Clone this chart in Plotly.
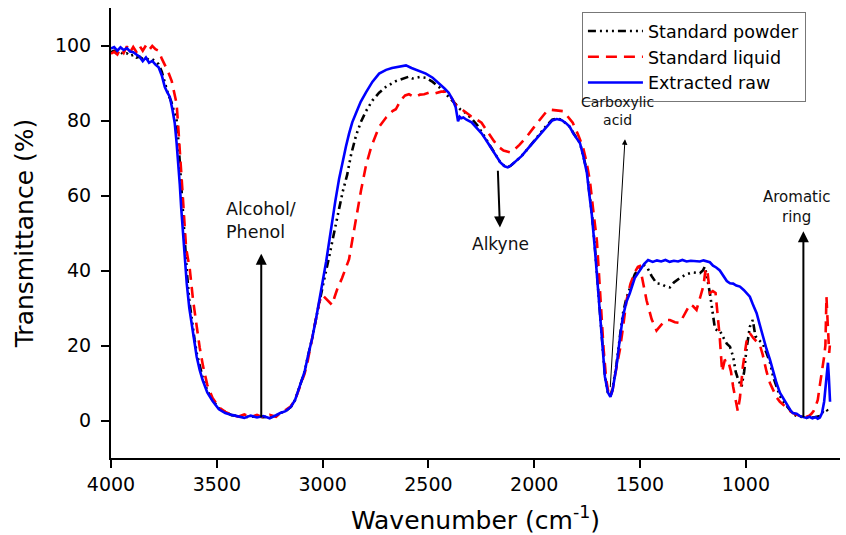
import plotly.graph_objects as go

# ---------------- data ----------------
wn_powder = [4000,3985,3970,3955,3940,3925,3910,3895,3880,3865,3850,3835,3820,3805,3790,3775,3760,3746,3730,3715,3705,3690,3682,3675,3668,3661,3652,3642,3630,3619,3605,3595,3581,3567,3545,3520,3490,3460,3430,3400,3370,3340,3310,3280,3250,3220,3200,3175,3150,3130,3115,3100,3085,3070,3049,3030,3016,2993,2969,2950,2935,2922,2905,2884,2865,2842,2820,2795,2765,2733,2700,2654,2620,2592,2575,2560,2540,2512,2480,2451,2420,2390,2370,2350,2324,2296,2270,2249,2216,2183,2160,2140,2125,2110,2090,2060,2030,2000,1970,1940,1915,1893,1870,1850,1832,1815,1784,1768,1751,1740,1728,1713,1704,1690,1678,1666,1652,1640,1630,1620,1611,1596,1581,1565,1548,1525,1501,1480,1463,1445,1422,1400,1380,1359,1340,1312,1280,1250,1217,1203,1194,1186,1170,1156,1146,1135,1123,1109,1090,1075,1060,1048,1036,1020,1008,997,981,967,955,940,920,902,886,870,855,839,820,808,790,778,760,740,725,713,700,680,665,650,640,630,620,612,603]
t_powder = [98.2,98.6,97.9,98.3,97.6,97.9,97.2,97.5,96.8,97.0,96.4,96.7,96.1,96.3,95.8,95.0,93.0,90.0,87.0,85.0,83.0,80.0,75.0,69.0,62.0,55.0,47.0,40.0,32.0,27.0,21.5,18.0,14.5,11.5,8.0,5.5,3.2,2.2,1.4,1.2,0.9,1.0,1.1,0.9,1.0,1.2,2.0,2.5,3.6,5.5,8.0,10.5,13.0,17.0,22.0,27.5,31.5,37.5,43.7,49.5,53.0,56.5,61.0,65.5,71.0,76.0,79.5,82.5,85.3,87.4,89.0,90.5,91.2,91.7,91.2,91.3,91.6,91.4,90.3,89.0,87.3,85.5,84.3,83.0,82.0,80.5,78.8,77.0,74.0,70.8,68.8,67.8,67.5,68.0,69.0,70.5,72.5,74.7,76.7,78.8,80.2,80.5,80.2,79.2,78.3,76.7,74.0,70.5,66.5,61.0,55.5,46.0,39.5,28.0,18.5,12.0,7.5,6.5,8.5,12.0,15.0,22.0,28.5,32.5,35.5,39.0,41.0,41.4,40.5,38.5,36.6,36.4,35.8,35.5,36.8,38.0,39.0,39.5,39.3,40.0,41.0,39.0,34.0,28.0,24.5,24.0,24.0,22.4,20.5,19.7,17.0,13.0,10.9,9.0,13.0,19.0,25.0,26.8,22.5,21.5,20.5,18.0,15.5,11.5,9.0,6.5,4.8,4.0,2.5,1.8,1.2,1.0,0.8,0.7,0.9,0.8,1.0,1.2,2.0,2.8,3.0,2.5,2.8]

wn_liquid = [4000,3985,3970,3955,3940,3925,3910,3895,3880,3865,3850,3835,3820,3805,3790,3775,3760,3745,3730,3713,3700,3690,3683,3675,3668,3661,3652,3645,3636,3628,3612,3595,3581,3565,3545,3520,3490,3460,3430,3400,3370,3340,3310,3280,3250,3220,3200,3175,3150,3130,3115,3100,3085,3070,3049,3030,3016,3002,2985,2969,2955,2943,2931,2908,2890,2875,2860,2842,2818,2795,2770,2733,2700,2670,2654,2630,2610,2592,2575,2560,2540,2520,2498,2470,2440,2418,2400,2385,2370,2343,2320,2300,2270,2249,2230,2210,2190,2169,2145,2115,2095,2070,2035,2000,1970,1945,1926,1900,1880,1865,1845,1818,1795,1770,1755,1737,1722,1704,1695,1685,1672,1660,1648,1640,1630,1620,1607,1595,1580,1564,1545,1525,1510,1501,1490,1478,1469,1445,1422,1400,1375,1359,1335,1312,1290,1264,1250,1233,1215,1200,1190,1182,1170,1156,1143,1133,1123,1112,1100,1085,1070,1060,1048,1038,1028,1014,997,981,965,949,934,920,902,886,870,855,839,820,808,790,778,760,740,725,713,700,690,680,670,660,650,640,630,624,619,614,610,606,603]
t_liquid = [97.8,98.3,97.6,99.2,98.0,99.8,98.2,99.6,98.3,99.9,98.6,100.0,98.8,99.9,99.0,98.6,96.5,94.8,93.0,90.5,87.5,84.5,79.0,73.0,67.0,60.0,52.0,46.0,43.0,40.5,32.0,25.0,19.5,14.5,9.5,6.0,3.5,2.3,1.5,1.0,1.6,0.9,1.5,0.8,1.5,1.0,2.0,2.8,3.8,5.5,8.0,10.0,12.5,16.0,22.0,28.0,31.5,33.5,32.5,31.5,30.8,33.0,35.0,38.0,40.5,43.0,48.0,54.0,61.5,68.0,73.0,78.3,80.8,82.5,83.0,85.5,86.7,87.0,86.5,86.3,86.9,87.0,87.4,87.2,87.7,87.7,86.8,85.5,84.0,83.0,82.0,81.2,80.2,79.4,77.8,76.0,74.5,73.0,72.0,71.5,72.2,73.5,75.7,78.3,80.5,82.2,82.9,82.7,82.6,82.5,81.3,79.4,76.5,73.0,69.5,64.0,56.5,48.0,40.0,30.0,19.0,11.0,7.0,6.5,8.0,11.5,15.5,18.9,25.0,32.0,36.5,39.5,41.0,41.2,38.0,35.0,32.0,27.0,24.0,25.5,26.8,26.8,26.2,26.0,28.5,31.0,30.5,29.5,33.0,36.0,40.5,40.0,34.0,34.5,34.0,28.0,22.0,13.0,16.0,16.3,13.0,9.0,5.0,2.5,6.0,14.4,21.0,23.3,22.0,21.0,20.2,17.5,13.0,10.0,7.8,6.2,5.0,4.0,3.2,2.5,2.0,1.5,1.2,0.8,1.0,1.3,1.8,2.5,3.8,5.5,9.5,13.0,17.0,20.0,33.0,27.0,22.0,18.0,20.0]

wn_raw = [4000,3985,3970,3955,3940,3925,3910,3895,3880,3865,3850,3835,3820,3805,3790,3775,3760,3746,3735,3722,3710,3699,3690,3682,3675,3668,3661,3652,3642,3630,3619,3605,3595,3581,3567,3545,3520,3490,3460,3430,3400,3370,3340,3310,3280,3250,3220,3200,3175,3150,3130,3115,3100,3085,3070,3049,3030,3016,3000,2983,2970,2955,2940,2922,2905,2890,2875,2860,2842,2820,2795,2765,2733,2700,2672,2640,2606,2580,2560,2530,2512,2480,2451,2425,2404,2385,2371,2365,2360,2352,2345,2335,2320,2296,2270,2249,2230,2205,2183,2160,2140,2125,2110,2090,2060,2030,2000,1970,1940,1915,1893,1870,1850,1832,1815,1784,1768,1751,1740,1728,1713,1704,1690,1678,1666,1652,1640,1630,1620,1611,1596,1581,1565,1548,1525,1501,1480,1462,1440,1420,1400,1380,1360,1340,1320,1300,1280,1260,1240,1217,1200,1185,1170,1155,1140,1123,1105,1090,1075,1060,1045,1028,1010,995,981,967,949,934,920,902,886,870,855,839,823,808,790,778,760,745,730,713,700,685,670,660,650,640,630,622,616,612,608,605,602]
t_raw = [99.2,99.6,98.6,99.5,98.8,99.3,98.4,98.2,97.6,97.0,95.8,96.8,95.4,95.9,94.9,94.2,92.0,89.0,87.6,86.3,83.0,79.4,74.0,69.0,63.0,56.5,50.5,43.0,36.5,30.0,25.5,20.5,17.0,13.5,10.8,7.5,5.2,3.0,2.0,1.5,1.1,0.7,1.3,0.8,1.2,0.6,1.4,2.0,2.5,3.6,5.5,8.0,10.5,13.0,17.0,22.0,27.5,31.5,37.0,42.5,47.5,53.0,58.5,64.5,69.5,73.0,76.5,79.5,82.0,85.0,87.5,90.3,92.5,93.5,94.0,94.3,94.7,94.0,93.6,93.0,92.5,91.4,90.0,88.6,87.4,85.5,83.5,81.5,79.8,81.0,80.6,80.8,80.2,79.5,78.0,76.6,75.0,72.8,70.5,68.8,67.8,67.5,68.0,69.0,70.5,72.5,74.5,76.5,78.6,80.0,80.4,80.1,79.3,78.3,76.5,74.0,70.5,66.0,60.5,55.0,45.5,39.0,27.7,18.0,11.7,7.5,6.3,8.0,11.5,14.5,21.5,27.7,31.5,34.0,38.0,40.2,41.8,42.8,42.3,42.7,42.4,42.8,42.3,42.6,42.4,42.8,42.4,42.6,42.5,42.4,42.7,42.5,42.2,41.3,40.8,40.0,38.5,37.2,36.6,36.5,36.0,35.7,34.8,33.8,33.0,31.0,28.6,25.5,22.4,19.0,16.2,12.8,10.0,7.4,5.8,4.7,2.8,2.0,1.8,1.2,1.0,0.7,1.0,0.6,0.9,0.5,0.8,2.0,5.0,9.0,13.0,15.4,12.0,8.0,5.0]

series_names = ["Standard powder", "Standard liquid", "Extracted raw"]
x_ticks = [4000, 3500, 3000, 2500, 2000, 1500, 1000]
y_ticks = [0, 20, 40, 60, 80, 100]

FONT = "DejaVu Sans, Liberation Sans, Arial, sans-serif"

fig = go.Figure()
fig.add_trace(go.Scatter(x=wn_powder, y=t_powder, mode="lines", name=series_names[0],
                         line=dict(color="black", width=2.6, dash="8px,4px,2px,4px,2px,4px,2px,4px")))
fig.add_trace(go.Scatter(x=wn_liquid, y=t_liquid, mode="lines", name=series_names[1],
                         line=dict(color="#ff0000", width=2.6, dash="11px,7px")))
fig.add_trace(go.Scatter(x=wn_raw, y=t_raw, mode="lines", name=series_names[2],
                         line=dict(color="#0000ff", width=2.6)))

ann = []
def arrow(xh, yh, xt, yt, w):
    ann.append(dict(x=xh, y=yh, ax=xt, ay=yt, xref="x", yref="y", axref="x", ayref="y",
                    text="", showarrow=True, arrowhead=2, arrowsize=1.1, arrowwidth=w,
                    arrowcolor="black"))
def label(x, y, txt, size, align="center"):
    ann.append(dict(x=x, y=y, xref="x", yref="y", text=txt, showarrow=False, align=align,
                    font=dict(family=FONT, size=size, color="#111")))

arrow(3290, 44.5, 3290, 0.5, 2)
label(3290, 53.3, "Alcohol/<br>Phenol", 17.5, "left")
arrow(2162, 51.5, 2172, 67, 2)
label(2160, 47, "Alkyne", 17)
arrow(1571, 75, 1641, 8.5, 1)
label(1605, 82.6, "Carboxylic<br>acid", 14)
arrow(728, 50.5, 728, 0.5, 2)
label(762, 57, "Aromatic<br>ring", 15)

fig.update_layout(
    width=846, height=535,
    margin=dict(l=111, r=6, t=8, b=77),
    paper_bgcolor="white", plot_bgcolor="white",
    font=dict(family=FONT, color="black"),
    annotations=ann,
    legend=dict(x=0.646, y=0.991, xanchor="left", yanchor="top",
                bgcolor="white", bordercolor="#777", borderwidth=1,
                font=dict(family=FONT, size=17.5, color="black"),
                tracegroupgap=0, itemwidth=55),
    xaxis=dict(range=[4000, 555], tickvals=x_ticks, ticks="outside", ticklen=8, tickwidth=2,
               tickcolor="black", showline=True, linewidth=2, linecolor="black",
               showgrid=False, zeroline=False, tickfont=dict(size=19, color="black"),
               automargin=False,
               title=dict(text="Wavenumber (cm<sup>-1</sup>)", font=dict(size=25), standoff=18)),
    yaxis=dict(range=[-10, 110], tickvals=y_ticks, ticks="outside", ticklen=8, tickwidth=2,
               tickcolor="black", showline=True, linewidth=2, linecolor="black",
               showgrid=False, zeroline=False, tickfont=dict(size=19, color="black"),
               ticklabelstandoff=6, automargin=False,
               title=dict(text="Transmittance (%)", font=dict(size=25), standoff=14)),
)

fig.write_html("out.html", config={"displayModeBar": False},
               post_script="document.body.style.margin='0';")
